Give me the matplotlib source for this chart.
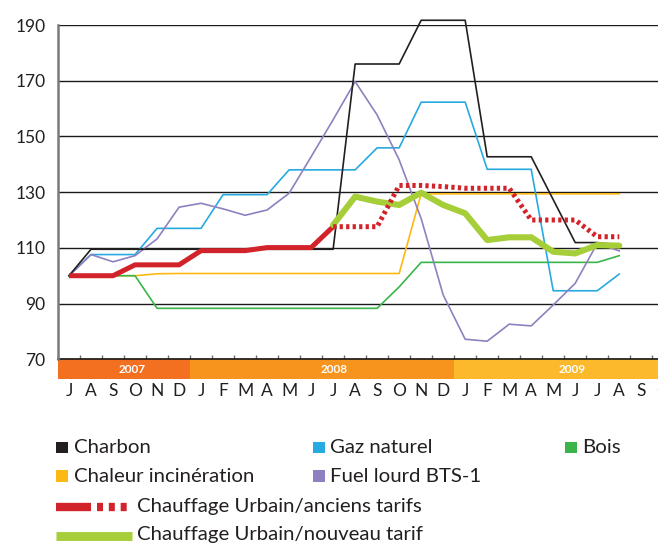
import matplotlib
matplotlib.use("Agg")
import matplotlib.pyplot as plt
from matplotlib.patches import Rectangle
from matplotlib.lines import Line2D

# months from July 2007 to August 2009
months = ["J", "A", "S", "O", "N", "D",
          "J", "F", "M", "A", "M", "J", "J", "A", "S", "O", "N", "D",
          "J", "F", "M", "A", "M", "J", "J", "A", "S", "O"]
years = ["2007", "2008", "2009"]
year_spans = [(-0.5, 5.5), (5.5, 17.5), (17.5, 29.5)]
year_label_pos = [2.87, 12.05, 22.84]

charbon = [100, 109.5, 109.5, 109.5, 109.5, 109.5, 109.5, 109.5, 109.5, 109.5, 109.5, 109.5, 109.5,
           176, 176, 176, 191.7, 191.7, 191.7, 142.7, 142.7, 142.7, 127.3, 111.9, 111.9, 111]
gaz = [100, 107.6, 107.6, 107.6, 117, 117, 117, 129.1, 129.1, 129.1, 138, 138, 138,
       138, 145.9, 145.9, 162.3, 162.3, 162.3, 138.2, 138.2, 138.2, 94.6, 94.6, 94.6, 100.6]
bois = [100, 100, 100, 100, 88.3, 88.3, 88.3, 88.3, 88.3, 88.3, 88.3, 88.3, 88.3,
        88.3, 88.3, 96, 104.8, 104.8, 104.8, 104.8, 104.8, 104.8, 104.8, 104.8, 104.8, 107.2]
chaleur = [100, 100, 100, 100, 100.7, 100.8, 100.8, 100.8, 100.8, 100.8, 100.8, 100.8, 100.8,
           100.8, 100.8, 100.8, 129.4, 129.4, 129.4, 129.4, 129.4, 129.4, 129.4, 129.4, 129.4, 129.4]
fuel = [100, 107.6, 105, 107.2, 113.2, 124.6, 126, 124, 121.7, 123.6, 129.6, 142.7, 156,
        169.7, 157.7, 141.6, 120.5, 93.1, 77.2, 76.5, 82.6, 82, 89.5, 97.3, 111.6, 108.9]
anciens = [100, 100, 100, 103.9, 103.9, 103.9, 109, 109, 109, 110.1, 110.1, 110.1, 117.6,
           117.6, 117.6, 132.4, 132.4, 132, 131.4, 131.4, 131.4, 120, 120, 120, 114, 114]
nouveau = [118.2, 128.4, 126.6, 125.4, 129.8, 125.4, 122.4, 112.8, 113.8, 113.8, 108.6, 108, 111, 110.8]

c_black = "#231f20"
c_blue = "#27aae1"
c_green = "#39b54a"
c_yellow = "#fdb913"
c_purple = "#8f80bf"
c_red = "#d2232a"
c_lime = "#a6ce39"
year_colors = ["#f37021", "#f7941e", "#fdb92c"]

plt.rcParams["font.family"] = ["Lato", "DejaVu Sans"]

W, H = 658, 545
fig = plt.figure(figsize=(W / 100, H / 100), dpi=100)
ax = fig.add_axes([58 / W, 185.7 / H, 600 / W, (520 - 185.7) / H])

x = list(range(len(charbon)))
ax.plot(x, chaleur, color=c_yellow, lw=1.2, clip_on=False, zorder=3)
ax.plot(x, bois, color=c_green, lw=1.2, clip_on=False, zorder=3)
ax.plot(x, gaz, color=c_blue, lw=1.2, clip_on=False, zorder=3)
ax.plot(x, fuel, color=c_purple, lw=1.2, clip_on=False, zorder=3)
ax.plot(x, charbon, color=c_black, lw=1.2, clip_on=False, zorder=3)

ax.plot(x[:13], anciens[:13], color=c_red, lw=3.6, zorder=4, solid_capstyle="butt")
xn = x[12:]
ax.plot(xn, nouveau, color=c_lime, lw=4.4, zorder=4, solid_capstyle="round", solid_joinstyle="round")
ax.plot(xn, anciens[12:], color=c_red, lw=3.6, zorder=5,
        linestyle=(0, (0.65, 0.65)), dash_capstyle="butt")

ax.set_xlim(-0.5, 26.76)
ax.set_ylim(70, 190)
ax.set_yticks(range(70, 191, 20))
ax.grid(axis="y", color="#1a1a1a", lw=1.0)
ax.set_axisbelow(True)
for s in ["top", "right", "bottom"]:
    ax.spines[s].set_visible(False)
ax.spines["left"].set_color("#7a7a7a")
ax.spines["left"].set_linewidth(1.8)
ax.tick_params(axis="y", length=0, pad=9, labelsize=12.5, labelcolor="#231f20")

ax.set_xticks(range(27))
ax.set_xticklabels(months[:27])
ax.set_xticks([i + 0.5 for i in range(-1, 27)], minor=True)
ax.tick_params(axis="x", which="major", length=0, pad=17, labelsize=12.5, labelcolor="#231f20")
ax.tick_params(axis="x", which="minor", length=3, width=1, color="#6d6d6d", direction="in")
# the last month label is cut by the right edge, as in the original
ax.text(27, 61.5, months[27], ha="center", va="top", fontsize=12.5, color="#231f20", clip_on=False)

# year band under the axis
band_h = 7.2
for (a, b), yr, col, pos in zip(year_spans, years, year_colors, year_label_pos):
    ax.add_patch(Rectangle((a, 70 - band_h), b - a, band_h, facecolor=col, edgecolor="none",
                           clip_on=False, zorder=1))
    ax.text(pos, 70 - band_h / 2, yr, color="white", fontsize=8.5, fontweight="bold",
            ha="center", va="center", clip_on=False, zorder=2)
ax.axhline(70, color="#1a1a1a", lw=1.2, zorder=2, clip_on=False)


def fx(px):
    return px / W


def fy(py):
    return 1 - py / H


# legend
fs = 14.7
squares = [(56, 441.7, 453.3, c_black, "Charbon"), (312.5, 441.7, 453.3, c_blue, "Gaz naturel"),
           (564.5, 441.7, 453.3, c_green, "Bois"), (56, 470.3, 481.7, c_yellow, "Chaleur incinération"),
           (312.5, 470.3, 481.7, c_purple, "Fuel lourd BTS-1")]
for sx, sy, base, col, lab in squares:
    fig.add_artist(Rectangle((fx(sx), fy(sy + 11.5)), 12 / W, 11.5 / H, transform=fig.transFigure,
                             facecolor=col, edgecolor="none"))
    fig.text(fx(sx + 18), fy(base), lab, fontsize=fs, color="#231f20", va="baseline")

fig.add_artist(Line2D([fx(56), fx(90.7)], [fy(507.3)] * 2, color=c_red, lw=6,
                      solid_capstyle="butt", transform=fig.transFigure))
fig.add_artist(Line2D([fx(97.3), fx(131.7)], [fy(507.3)] * 2, color=c_red, lw=6,
                      linestyle=(0, (0.72, 0.7)), dash_capstyle="butt", transform=fig.transFigure))
fig.text(fx(137.3), fy(511.7), "Chauffage Urbain/anciens tarifs", fontsize=fs, color="#231f20",
         va="baseline")
fig.add_artist(Line2D([fx(56), fx(131.7)], [fy(536)] * 2, color=c_lime, lw=6.4,
                      solid_capstyle="butt", transform=fig.transFigure))
fig.text(fx(137.3), fy(540), "Chauffage Urbain/nouveau tarif", fontsize=fs, color="#231f20",
         va="baseline")

fig.savefig("out.png", dpi=100)
